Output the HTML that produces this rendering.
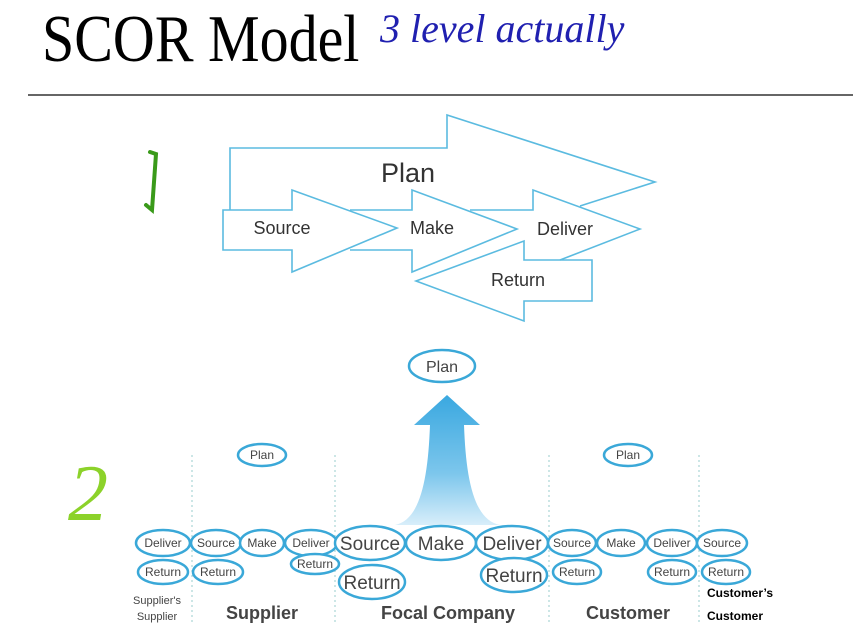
<!DOCTYPE html>
<html><head><meta charset="utf-8"><style>
html,body{margin:0;padding:0;background:#fff;}
body{width:853px;height:644px;overflow:hidden;position:relative;}
svg{position:absolute;left:0;top:0;}
</style></head><body>
<svg width="853" height="644" viewBox="0 0 853 644" xmlns="http://www.w3.org/2000/svg">
<defs>
<linearGradient id="g" x1="0" y1="0" x2="0" y2="1">
<stop offset="0" stop-color="#3aa8e0"/><stop offset="0.6" stop-color="#7cc6ec"/><stop offset="1" stop-color="#d8eefa"/>
</linearGradient>
</defs>
<text x="42" y="61" font-family="Liberation Serif, serif" font-size="58" transform="translate(0,-9) scale(1,1.15)" fill="#000">SCOR Model</text>
<text x="380" y="42" font-family="Liberation Serif, serif" font-style="italic" font-size="40" fill="#2020b0">3 level actually</text>
<line x1="28" y1="95" x2="853" y2="95" stroke="#333" stroke-width="1.5"/>
<path d="M150 152 L156 154 L152 210 L146 205" fill="none" stroke="#3a9a1a" stroke-width="4" stroke-linecap="round"/>
<text x="68" y="520" font-family="Liberation Serif, serif" font-style="italic" font-size="80" fill="#8cd22a">2</text>
<g fill="none" stroke="#5bbbe0" stroke-width="1.6">
<path d="M230 210 L230 148 L447 148 L447 115 L655 182 L580 206"/>
<path d="M223 250 L223 210 L292 210 L292 190 L397 228 L292 272 L292 250 Z"/>
<path d="M350 210 L412 210 L412 190 L517 229 L412 272 L412 250 L350 250"/>
<path d="M470 210 L533 210 L533 190 L640 229 L560 260"/>
<path d="M592 260 L592 301 L524 301 L524 321 L416 281 L524 241 L524 260 Z"/>
</g>
<g font-family="Liberation Sans, sans-serif" fill="#333" text-anchor="middle">
<text x="408" y="182" font-size="27">Plan</text>
<text x="282" y="234" font-size="18">Source</text>
<text x="432" y="234" font-size="18">Make</text>
<text x="565" y="235" font-size="18">Deliver</text>
<text x="518" y="286" font-size="18">Return</text>
</g>
<path d="M395 525 C420 520 428 480 430 425 L414 425 L447 395 L480 425 L464 425 C466 480 474 520 500 525 Z" fill="url(#g)"/>
<g stroke="#9cc" stroke-width="1" stroke-dasharray="2,3">
<line x1="192" y1="455" x2="192" y2="625"/><line x1="335" y1="455" x2="335" y2="625"/>
<line x1="549" y1="455" x2="549" y2="625"/><line x1="699" y1="455" x2="699" y2="625"/>
</g>
<g fill="#fff" stroke="#3aa8d8" stroke-width="2.5">
<ellipse cx="442" cy="366" rx="33" ry="16"/>
<ellipse cx="262" cy="455" rx="24" ry="11"/><ellipse cx="628" cy="455" rx="24" ry="11"/>
<ellipse cx="163" cy="543" rx="27" ry="13"/><ellipse cx="216" cy="543" rx="25" ry="13"/>
<ellipse cx="262" cy="543" rx="22" ry="13"/><ellipse cx="311" cy="543" rx="26" ry="13"/>
<ellipse cx="163" cy="572" rx="25" ry="12"/><ellipse cx="218" cy="572" rx="25" ry="12"/>
<ellipse cx="315" cy="564" rx="24" ry="10"/>
<ellipse cx="370" cy="543" rx="35" ry="17"/><ellipse cx="441" cy="543" rx="35" ry="17"/><ellipse cx="512" cy="543" rx="36" ry="17"/>
<ellipse cx="372" cy="582" rx="33" ry="17"/><ellipse cx="514" cy="575" rx="33" ry="17"/>
<ellipse cx="572" cy="543" rx="24" ry="13"/><ellipse cx="621" cy="543" rx="24" ry="13"/>
<ellipse cx="672" cy="543" rx="25" ry="13"/><ellipse cx="722" cy="543" rx="25" ry="13"/>
<ellipse cx="577" cy="572" rx="24" ry="12"/><ellipse cx="672" cy="572" rx="24" ry="12"/><ellipse cx="726" cy="572" rx="24" ry="12"/>
</g>
<g font-family="Liberation Sans, sans-serif" fill="#444" text-anchor="middle" font-size="12">
<text x="442" y="372" font-size="16">Plan</text>
<text x="262" y="459">Plan</text><text x="628" y="459">Plan</text>
<text x="163" y="547">Deliver</text><text x="216" y="547">Source</text><text x="262" y="547">Make</text><text x="311" y="547">Deliver</text>
<text x="163" y="576">Return</text><text x="218" y="576">Return</text><text x="315" y="568">Return</text>
<text x="370" y="550" font-size="19">Source</text><text x="441" y="550" font-size="19">Make</text><text x="512" y="550" font-size="19">Deliver</text>
<text x="372" y="589" font-size="19">Return</text><text x="514" y="582" font-size="19">Return</text>
<text x="572" y="547">Source</text><text x="621" y="547">Make</text><text x="672" y="547">Deliver</text><text x="722" y="547">Source</text>
<text x="577" y="576">Return</text><text x="672" y="576">Return</text><text x="726" y="576">Return</text>
<text x="157" y="604" font-size="11">Supplier's</text><text x="157" y="620" font-size="11">Supplier</text>
<text x="262" y="619" font-size="18" font-weight="bold">Supplier</text>
<text x="448" y="619" font-size="18" font-weight="bold">Focal Company</text>
<text x="628" y="619" font-size="18" font-weight="bold">Customer</text>
</g>
<g font-family="Liberation Sans, sans-serif" fill="#000" font-size="12" font-weight="bold">
<text x="707" y="597">Customer’s</text><text x="707" y="620">Customer</text>
</g>
</svg>
</body></html>
